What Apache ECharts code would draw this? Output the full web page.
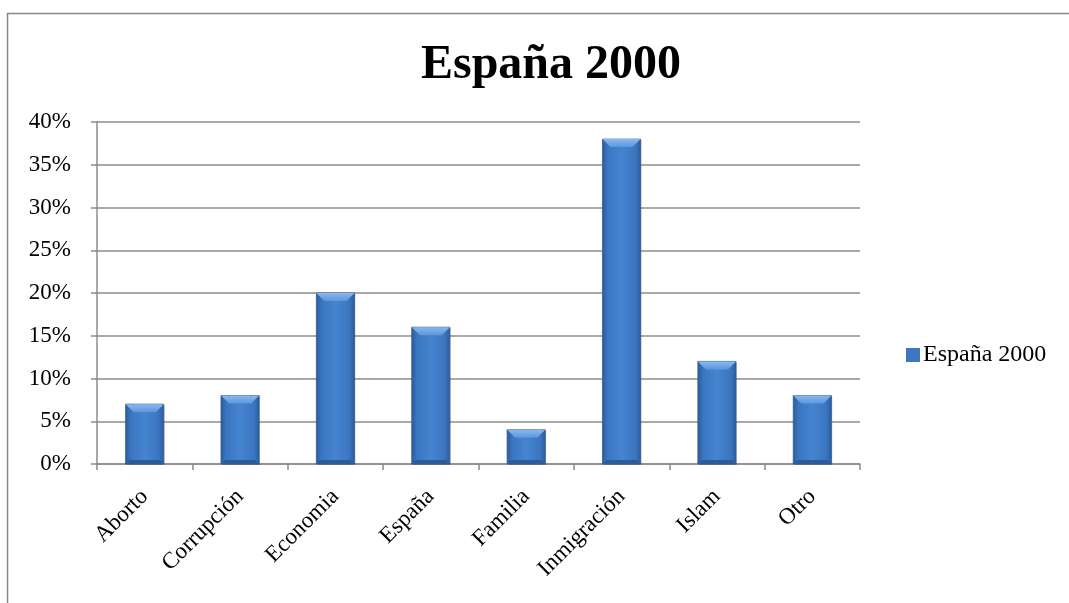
<!DOCTYPE html>
<html>
<head>
<meta charset="utf-8">
<script src="https://cdn.jsdelivr.net/npm/echarts@6/dist/echarts.min.js"></script>
<style>
  html, body { margin: 0; padding: 0; background: #fff; }
  #chart { width: 1069px; height: 603px; }
</style>
</head>
<body>
<div id="chart"></div>
<script>
// Temas por categoría, España 2000 (porcentaje)
const categories = ['Aborto', 'Corrupción', 'Economia', 'España', 'Familia', 'Inmigración', 'Islam', 'Otro'];
const seriesName = 'España 2000';
const values = [7, 8, 20, 16, 4, 38, 12, 8];
const yTicks = [0, 5, 10, 15, 20, 25, 30, 35, 40];

const FONT = '"Liberation Serif", "Times New Roman", serif';
const GRID = '#8c8c8c';
const BAR_RATIO = 0.4;

// Bevelled column: body with horizontal shading, lighter top facet, darker bottom facet
function renderBevelBar(params, api) {
  const idx = api.value(0);
  const val = api.value(1);
  const base = api.coord([idx, 0]);
  const top = api.coord([idx, val]);
  const w = api.size([1, 0])[0] * BAR_RATIO;
  const l = top[0] - w / 2, r = top[0] + w / 2;
  const y1 = top[1], y0 = base[1];
  const b = Math.min(8, (y0 - y1) / 3);
  return {
    type: 'group',
    children: [
      {
        type: 'rect',
        shape: { x: l + 1, y: y1 + 1, width: w, height: y0 - y1 },
        style: { fill: 'rgba(0,0,0,0.18)' }
      },
      {
        type: 'rect',
        shape: { x: l, y: y1, width: w, height: y0 - y1 },
        style: {
          fill: new echarts.graphic.LinearGradient(0, 0, 1, 0, [
            { offset: 0, color: '#2b5a97' },
            { offset: 0.14, color: '#3b75bf' },
            { offset: 0.5, color: '#4584d1' },
            { offset: 0.86, color: '#3b75bf' },
            { offset: 1, color: '#2b5a97' }
          ]),
          stroke: '#2d5b93',
          lineWidth: 0.8
        }
      },
      {
        type: 'polygon',
        shape: { points: [[l, y1], [r, y1], [r - b, y1 + b], [l + b, y1 + b]] },
        style: {
          fill: new echarts.graphic.LinearGradient(0, 0, 0, 1, [
            { offset: 0, color: '#8bb8ee' },
            { offset: 1, color: '#5a96dd' }
          ])
        }
      },
      {
        type: 'polygon',
        shape: { points: [[l, y0], [r, y0], [r - b * 0.5, y0 - b * 0.5], [l + b * 0.5, y0 - b * 0.5]] },
        style: { fill: '#2c5b98' }
      }
    ]
  };
}

const chart = echarts.init(document.getElementById('chart'), null, { renderer: 'canvas' });
chart.setOption({
  animation: false,
  backgroundColor: '#fff',
  title: {
    text: seriesName,
    left: 546,
    textAlign: 'center',
    top: 37,
    textStyle: { fontFamily: FONT, fontSize: 48, fontWeight: 'bold', color: '#000' }
  },
  graphic: [
    { type: 'line', shape: { x1: 7, y1: 13.5, x2: 1069, y2: 13.5 }, style: { stroke: '#888', lineWidth: 1.5 } },
    { type: 'line', shape: { x1: 7.5, y1: 13, x2: 7.5, y2: 603 }, style: { stroke: '#888', lineWidth: 1.5 } }
  ],
  legend: {
    data: [seriesName],
    left: 901,
    top: 338,
    itemWidth: 14,
    itemHeight: 14,
    itemGap: 4,
    icon: 'rect',
    textStyle: { fontFamily: FONT, fontSize: 24, color: '#000', padding: [0, 0, 0, -2] }
  },
  grid: { left: 97, right: 209, top: 122, bottom: 139, containLabel: false },
  xAxis: {
    type: 'category',
    data: categories,
    axisLine: { lineStyle: { color: GRID, width: 1.5 } },
    axisTick: { show: true, length: 6, lineStyle: { color: GRID, width: 1.5 } },
    axisLabel: { rotate: 45, fontFamily: FONT, fontSize: 23, color: '#000', margin: 29 }
  },
  yAxis: {
    type: 'value',
    min: 0,
    max: 40,
    interval: 5,
    axisLine: { show: true, lineStyle: { color: GRID, width: 1.5 } },
    axisTick: { show: true, length: 6, inside: false, lineStyle: { color: GRID, width: 1.5 } },
    splitLine: { show: true, lineStyle: { color: GRID, width: 1.5 } },
    axisLabel: {
      fontFamily: FONT, fontSize: 23, color: '#000', margin: 26,
      formatter: v => (yTicks.includes(v) ? v + '%' : '')
    }
  },
  series: [{
    name: seriesName,
    type: 'custom',
    renderItem: renderBevelBar,
    encode: { x: 0, y: 1 },
    itemStyle: { color: '#3c77c2' },
    data: values.map((v, i) => [i, v])
  }]
});
</script>
</body>
</html>
